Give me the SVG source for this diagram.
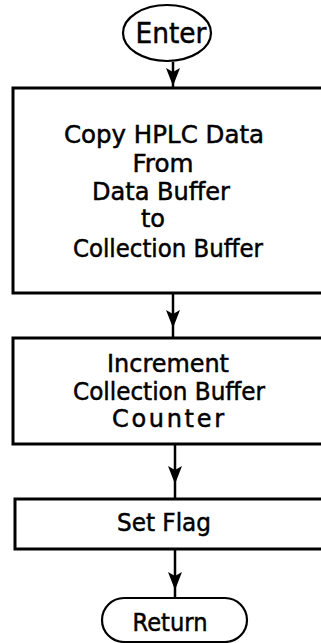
<svg xmlns="http://www.w3.org/2000/svg" width="321" height="643" viewBox="0 0 321 643">
<style>
  .box { fill: #fff; stroke: #000; stroke-width: 3; }
  .term { fill: #fff; stroke: #000; stroke-width: 2.2; }
  .t { font-family: "DejaVu Sans", "Liberation Sans", sans-serif; font-size: 24px; fill: #000; stroke: #000; stroke-width: 0.5; text-anchor: middle; }
  .conn { fill: none; stroke: #000; stroke-width: 2.5; marker-mid: url(#ah); }
</style>
<defs>
  <marker id="ah" markerUnits="userSpaceOnUse" markerWidth="20" markerHeight="18" viewBox="-18 -9 20 18" refX="0" refY="0" orient="auto">
    <path d="M0,0 L-18,-7 L-14,0 L-18,7 Z" fill="#000"/>
  </marker>
</defs>
<rect width="321" height="643" fill="#fff"/>
<g id="connectors">
  <path class="conn" d="M173,62 V86 V88"/>
  <path class="conn" d="M173,293 V328 V338"/>
  <path class="conn" d="M175,444 V484 V499"/>
  <path class="conn" d="M175,549 V590 V598"/>
</g>
<g id="enter">
  <ellipse class="term" cx="167" cy="33" rx="44" ry="28"/>
  <text class="t" x="171" y="43" style="font-size:29px" textLength="71" lengthAdjust="spacingAndGlyphs">Enter</text>
</g>
<g id="copy">
  <rect class="box" x="13" y="88" width="320" height="205"/>
  <text class="t" x="164" y="143" textLength="200" lengthAdjust="spacingAndGlyphs">Copy HPLC Data</text>
  <text class="t" x="163" y="172" textLength="61" lengthAdjust="spacingAndGlyphs">From</text>
  <text class="t" x="161" y="200" textLength="138" lengthAdjust="spacingAndGlyphs">Data Buffer</text>
  <text class="t" x="153" y="227">to</text>
  <text class="t" x="168" y="257" textLength="190" lengthAdjust="spacingAndGlyphs">Collection Buffer</text>
</g>
<g id="increment">
  <rect class="box" x="13" y="338" width="320" height="106"/>
  <text class="t" x="168" y="372" textLength="122" lengthAdjust="spacingAndGlyphs">Increment</text>
  <text class="t" x="169" y="400" textLength="192" lengthAdjust="spacingAndGlyphs">Collection Buffer</text>
  <text class="t" x="168" y="427" textLength="112" lengthAdjust="spacing">Counter</text>
</g>
<g id="setflag">
  <rect class="box" x="15" y="499" width="320" height="50"/>
  <text class="t" x="164" y="531" textLength="94" lengthAdjust="spacingAndGlyphs">Set Flag</text>
</g>
<g id="return">
  <rect class="term" x="102" y="598" width="145" height="44" rx="22" ry="22"/>
  <text class="t" x="170" y="631" textLength="75" lengthAdjust="spacingAndGlyphs">Return</text>
</g>
</svg>
